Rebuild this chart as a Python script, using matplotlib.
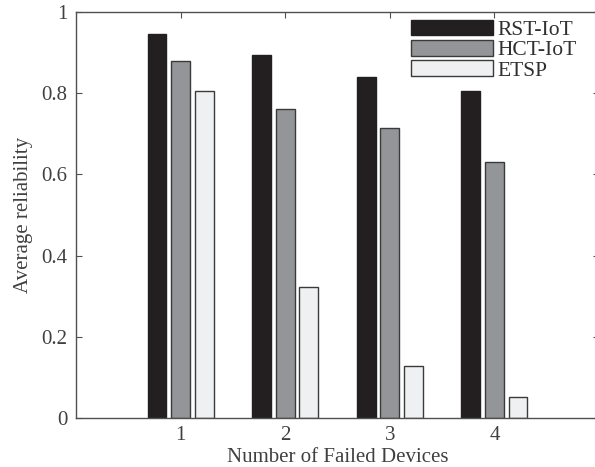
import matplotlib
matplotlib.use("Agg")
import matplotlib.pyplot as plt
import numpy as np

categories = [1, 2, 3, 4]
series_names = ["RST-IoT", "HCT-IoT", "ETSP"]
rst_iot = [0.946, 0.893, 0.841, 0.805]
hct_iot = [0.879, 0.760, 0.715, 0.631]
etsp = [0.806, 0.322, 0.129, 0.052]
colors = ["#231f20", "#939598", "#eff0f1"]
yticks = [0, 0.2, 0.4, 0.6, 0.8, 1]
ytick_labels = ["0", "0.2", "0.4", "0.6", "0.8", "1"]

plt.rcParams['font.family'] = ['Liberation Serif', 'DejaVu Serif']

fig = plt.figure(figsize=(5.95, 4.67), dpi=100)
W, H = 595, 467
left, right, top, bottom = 76, 599, 12, 418
ax = fig.add_axes([left / W, 1 - bottom / H, (right - left) / W, (bottom - top) / H])

x = np.array(categories, dtype=float)
offset = 0.225
width = 0.18
edge = "#3a3a3a"
for i, (vals, name, c) in enumerate(zip([rst_iot, hct_iot, etsp], series_names, colors)):
    ax.bar(x + (i - 1) * offset, vals, width=width, color=c, edgecolor=edge if i > 0 else c,
           linewidth=1.0, label=name, zorder=2)

ax.set_xlim(0, 5)
ax.set_ylim(0, 1)
ax.set_xticks(categories)
ax.set_xticklabels([str(c) for c in categories])
ax.set_yticks(yticks)
ax.set_yticklabels(ytick_labels)

spine_c = "#505050"
for s in ax.spines.values():
    s.set_color(spine_c)
    s.set_linewidth(1.0)
ax.tick_params(direction="in", length=4, width=0.8, color=spine_c, labelcolor="#404040",
               labelsize=15, top=True, right=True, pad=6)
ax.set_xlabel("Number of Failed Devices", fontsize=15, color="#404040", labelpad=2)
ax.set_ylabel("Average reliability", fontsize=15, color="#404040", labelpad=6)

leg = ax.legend(loc="upper left", bbox_to_anchor=((411 - left) / (right - left), 1 - 8 / (bottom - top)),
                frameon=False, fontsize=15.5, handlelength=3.8, handleheight=0.72,
                handletextpad=0.2, labelspacing=0.0, borderaxespad=0, borderpad=0)
for t in leg.get_texts():
    t.set_color("#303030")

fig.savefig("out.png", dpi=100)
